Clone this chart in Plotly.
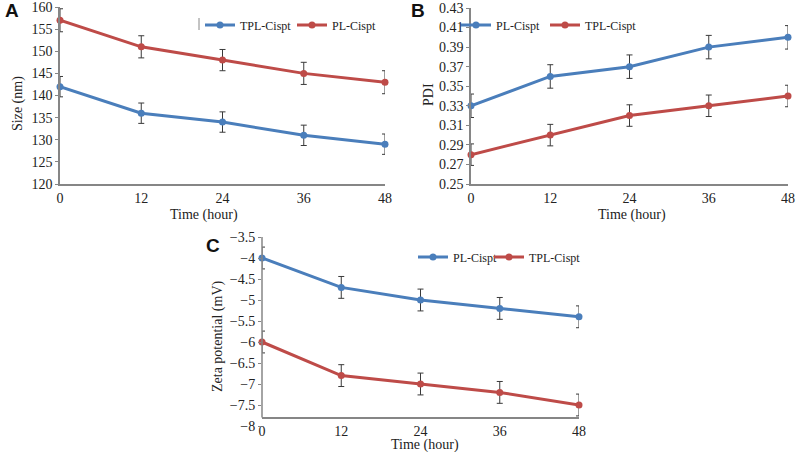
import plotly.graph_objects as go

# data
hours = [0, 12, 24, 36, 48]

size_tpl = [142, 136, 134, 131, 129]
size_pl = [157, 151, 148, 145, 143]
size_tpl_err = [2.3, 2.3, 2.3, 2.3, 2.3]
size_pl_err = [2.6, 2.5, 2.4, 2.5, 2.6]

pdi_pl = [0.33, 0.36, 0.37, 0.39, 0.40]
pdi_tpl = [0.28, 0.30, 0.32, 0.33, 0.34]
pdi_pl_err = [0.012, 0.012, 0.012, 0.012, 0.012]
pdi_tpl_err = [0.011, 0.011, 0.011, 0.011, 0.011]

zeta_pl = [-4.0, -4.7, -5.0, -5.2, -5.4]
zeta_tpl = [-6.0, -6.8, -7.0, -7.2, -7.5]
zeta_pl_err = [0.26, 0.26, 0.26, 0.26, 0.26]
zeta_tpl_err = [0.26, 0.26, 0.26, 0.26, 0.26]

BLUE = '#4A7EBB'
RED = '#BE4B48'
AXIS = '#868686'
SERIF = '"Liberation Serif", "Times New Roman", Tinos, serif'

W, H = 799, 452
def px(v): return v / W
def py(v): return 1 - v / H


def series(x, y, err, color, name, xa, ya, leg, lw=None):
    return go.Scatter(x=x, y=y, name=name, mode='lines+markers',
                      line=dict(color=color, width=3),
                      marker=dict(color=color, size=7),
                      error_y=dict(type='data', array=err, color='#3a3a3a',
                                   thickness=1, width=3),
                      xaxis=xa, yaxis=ya, legend=leg, legendwidth=lw,
                      cliponaxis=False)


fig = go.Figure()
fig.add_trace(series(hours, size_tpl, size_tpl_err, BLUE, 'TPL-Cispt', 'x', 'y', 'legend', 47))
fig.add_trace(series(hours, size_pl, size_pl_err, RED, 'PL-Cispt', 'x', 'y', 'legend'))
fig.add_trace(series(hours, pdi_pl, pdi_pl_err, BLUE, 'PL-Cispt', 'x2', 'y2', 'legend2', 44))
fig.add_trace(series(hours, pdi_tpl, pdi_tpl_err, RED, 'TPL-Cispt', 'x2', 'y2', 'legend2'))
fig.add_trace(series(hours, zeta_pl, zeta_pl_err, BLUE, 'PL-Cispt', 'x3', 'y3', 'legend3', 31))
fig.add_trace(series(hours, zeta_tpl, zeta_tpl_err, RED, 'TPL-Cispt', 'x3', 'y3', 'legend3'))

tick_font = dict(family=SERIF, size=14, color='#222')
title_font = dict(family=SERIF, size=14, color='#222')
leg_font = dict(family=SERIF, size=12, color='#222')

xcommon = dict(range=[0, 48], tickvals=hours, showgrid=False, zeroline=False,
               showline=True, linecolor=AXIS, linewidth=1.5, ticks='',
               tickfont=tick_font, automargin=False, ticklabeloverflow='allow')
ycommon = dict(showgrid=False, zeroline=False, showline=True, linecolor=AXIS,
               linewidth=1.5, ticks='outside', ticklen=3, tickcolor=AXIS,
               tickfont=tick_font, automargin=False, ticklabeloverflow='allow')

fig.update_layout(
    width=W, height=H, margin=dict(l=0, r=0, t=0, b=0),
    paper_bgcolor='white', plot_bgcolor='white', showlegend=True,
    font=dict(family=SERIF),
    xaxis=dict(xcommon, domain=[px(60), px(385)], anchor='y'),
    yaxis=dict(ycommon, domain=[py(184), py(7)], anchor='x', range=[120, 160],
               tickvals=[120, 125, 130, 135, 140, 145, 150, 155, 160]),
    xaxis2=dict(xcommon, domain=[px(471), px(788)], anchor='y2'),
    yaxis2=dict(ycommon, domain=[py(184), py(8)], anchor='x2', range=[0.25, 0.43],
                tickvals=[0.25, 0.27, 0.29, 0.31, 0.33, 0.35, 0.37, 0.39, 0.41, 0.43],
                tickformat='.2f'),
    xaxis3=dict(xcommon, domain=[px(262), px(579)], anchor='free', position=py(418)),
    yaxis3=dict(ycommon, domain=[py(426), py(237)], anchor='x3', range=[-8, -3.5],
                dtick=0.5, showline=False),
    legend=dict(orientation='h', x=px(200), y=py(25), xanchor='left', yanchor='middle',
                font=leg_font, bgcolor='rgba(0,0,0,0)'),
    legend2=dict(orientation='h', x=px(456), y=py(25), xanchor='left', yanchor='middle',
                 font=leg_font, bgcolor='rgba(0,0,0,0)'),
    legend3=dict(orientation='h', x=px(413), y=py(257), xanchor='left', yanchor='middle',
                 font=leg_font, bgcolor='rgba(0,0,0,0)'),
)

# y axis line of panel C stops at the x axis line
fig.add_shape(type='line', xref='x3 domain', yref='y3', x0=0, x1=0, y0=-7.8, y1=-3.5,
              line=dict(color=AXIS, width=1.5))
# stray mark next to legend in panel A
fig.add_shape(type='line', xref='paper', yref='paper', x0=px(199), x1=px(199),
              y0=py(30), y1=py(18), line=dict(color='#888', width=1))

# axis titles
titles = [('Time (hour)', 204, 215, 0), ('Time (hour)', 632, 215, 0),
          ('Time (hour)', 425, 445, 0), ('Size (nm)', 18, 104, -90),
          ('PDI', 428, 95, -90), ('Zeta potential (mV)', 218, 336, -90)]
for txt, tx, ty, rot in titles:
    fig.add_annotation(text=txt, x=px(tx), y=py(ty), xref='paper', yref='paper',
                       showarrow=False, xanchor='center', yanchor='middle',
                       textangle=rot, font=title_font)

for letter, lx, ly in [('A', 12, 10), ('B', 418, 10), ('C', 213, 246)]:
    fig.add_annotation(text='<b>%s</b>' % letter, x=px(lx), y=py(ly), xref='paper', yref='paper',
                       showarrow=False, xanchor='center', yanchor='middle',
                       font=dict(family='"Liberation Sans", Arial, sans-serif', size=19, color='#111'))

# page body has an 8px default margin; drop it so the figure sits at 0,0
fig.write_html("out.html", config={'displayModeBar': False},
               post_script="document.body.style.margin='0';")
